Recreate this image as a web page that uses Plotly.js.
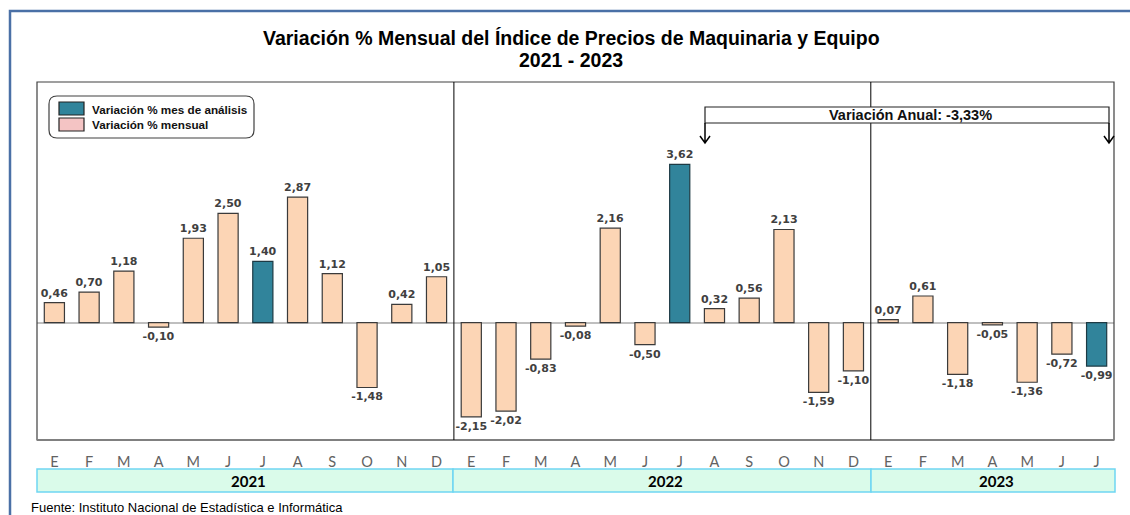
<!DOCTYPE html>
<html><head><meta charset="utf-8">
<script src="https://cdn.plot.ly/plotly-3.0.1.min.js"></script>
<style>html,body{margin:0;padding:0;background:#fff}#chart{width:1130px;height:515px}</style>
</head><body><div id="chart"></div>
<script>
// ---- DATA ----
const monthLabels2021 = ['E','F','M','A','M','J','J','A','S','O','N','D'];
const monthLabels2022 = ['E','F','M','A','M','J','J','A','S','O','N','D'];
const monthLabels2023 = ['E','F','M','A','M','J','J'];
const years = ['2021','2022','2023'];
const values2021 = [0.46, 0.70, 1.18, -0.10, 1.93, 2.50, 1.40, 2.87, 1.12, -1.48, 0.42, 1.05];
const values2022 = [-2.15, -2.02, -0.83, -0.08, 2.16, -0.50, 3.62, 0.32, 0.56, 2.13, -1.59, -1.10];
const values2023 = [0.07, 0.61, -1.18, -0.05, -1.36, -0.72, -0.99];
const analysisMonth = 6; // julio (mes de análisis) in each year
const legendNames = ['Variación % mes de análisis', 'Variación % mensual'];
const annualText = 'Variación Anual: -3,33%';
const titleLine1 = 'Variación % Mensual del Índice de Precios de Maquinaria y Equipo';
const titleLine2 = '2021 - 2023';
const sourceText = 'Fuente: Instituto Nacional de Estadística e Informática';

// ---- BUILD ----
const W = 1130, H = 515;
const px = x => x / W;
const py = y => 1 - y / H;
const groups = [[monthLabels2021, values2021], [monthLabels2022, values2022], [monthLabels2023, values2023]];
const xs = [], ticks = [], monthly = [], analysis = [], yearStart = [];
let k = 0;
groups.forEach(([labels, vals]) => {
  yearStart.push(k);
  vals.forEach((v, i) => {
    xs.push(k); ticks.push(labels[i]);
    if (i === analysisMonth) { analysis.push(v); monthly.push(null); }
    else { monthly.push(v); analysis.push(null); }
    k++;
  });
});
const n = xs.length;

const PL = 37, PR = 1114, PT = 82, PB = 440;
const textfont = {family: 'DejaVu Sans', size: 11, color: '#404040', weight: 'bold'};
const traces = [
  {type: 'bar', x: xs, y: monthly, name: legendNames[1], marker: {color: '#FCD5B5', line: {color: '#3a3a3a', width: 1.2}},
   texttemplate: '%{y:.2f}', textposition: 'outside', constraintext: 'none', textfont: textfont, cliponaxis: false, hoverinfo: 'skip'},
  {type: 'bar', x: xs, y: analysis, name: legendNames[0], marker: {color: '#31849B', line: {color: '#1d3a44', width: 1.2}},
   texttemplate: '%{y:.2f}', textposition: 'outside', constraintext: 'none', textfont: textfont, cliponaxis: false, hoverinfo: 'skip'}
];

const shapes = [];
const annotations = [];
// year bands
const bandEdges = [PL, 453, 871, 1115];
years.forEach((yr, i) => {
  shapes.push({type: 'rect', xref: 'paper', yref: 'paper', x0: px(bandEdges[i]), x1: px(bandEdges[i+1]), y0: py(492), y1: py(469),
    fillcolor: '#DAFBEA', line: {color: '#6FD6F2', width: 1.5}});
  annotations.push({xref: 'paper', yref: 'paper', x: px((bandEdges[i] + bandEdges[i+1]) / 2 + 3), y: py(480.5), text: '<b>' + yr + '</b>',
    showarrow: false, font: {family: 'Lato', size: 15, color: '#000'}, xanchor: 'center', yanchor: 'middle'});
});
// plot frame
shapes.push({type: 'rect', xref: 'paper', yref: 'paper', x0: px(PL), x1: px(PR), y0: py(PB), y1: py(PT), line: {color: '#404040', width: 1.2}});
shapes.push({type: 'line', xref: 'paper', yref: 'paper', x0: px(PL), x1: px(PR), y0: py(PB), y1: py(PB), line: {color: '#808080', width: 2}});
// year dividers inside plot
[yearStart[1], yearStart[2]].forEach(s => {
  shapes.push({type: 'line', xref: 'x', yref: 'paper', x0: s - 0.5, x1: s - 0.5, y0: py(PB), y1: py(PT), line: {color: '#000', width: 1}});
});
// outer blue frame
shapes.push({type: 'path', xref: 'paper', yref: 'paper', path: `M ${px(10)},${py(515)} L ${px(10)},${py(11)} L ${px(1130)},${py(11)}`, line: {color: '#4A70A6', width: 2.5}});
// legend box (rounded)
(function(){
  const x0 = 49, x1 = 254, y0 = 96, y1 = 138, r = 8;
  const P = (x, y) => `${px(x)},${py(y)}`;
  const path = `M ${P(x0+r,y0)} L ${P(x1-r,y0)} Q ${P(x1,y0)} ${P(x1,y0+r)} L ${P(x1,y1-r)} Q ${P(x1,y1)} ${P(x1-r,y1)} L ${P(x0+r,y1)} Q ${P(x0,y1)} ${P(x0,y1-r)} L ${P(x0,y0+r)} Q ${P(x0,y0)} ${P(x0+r,y0)} Z`;
  shapes.push({type: 'path', xref: 'paper', yref: 'paper', path: path, fillcolor: '#fff', line: {color: '#404040', width: 1.2}});
  shapes.push({type: 'rect', xref: 'paper', yref: 'paper', x0: px(59), x1: px(84), y0: py(115), y1: py(102), fillcolor: '#31849B', line: {color: '#222', width: 1.2}});
  shapes.push({type: 'rect', xref: 'paper', yref: 'paper', x0: px(59), x1: px(84), y0: py(131), y1: py(118), fillcolor: '#F4C4C4', line: {color: '#222', width: 1.2}});
  annotations.push({xref: 'paper', yref: 'paper', x: px(90), y: py(109), text: '<b>' + legendNames[0] + '</b>', showarrow: false,
    xanchor: 'left', yanchor: 'middle', font: {family: 'Liberation Sans', size: 11.7, color: '#111'}});
  annotations.push({xref: 'paper', yref: 'paper', x: px(90), y: py(124), text: '<b>' + legendNames[1] + '</b>', showarrow: false,
    xanchor: 'left', yanchor: 'middle', font: {family: 'Liberation Sans', size: 11.7, color: '#111'}});
})();
// annual variation box + arrows
shapes.push({type: 'rect', xref: 'paper', yref: 'paper', x0: px(705), x1: px(1109), y0: py(123), y1: py(107), fillcolor: '#fff', line: {color: '#222', width: 1.2}});
[705, 1109].forEach(x => {
  shapes.push({type: 'path', xref: 'paper', yref: 'paper',
    path: `M ${px(x)},${py(123)} L ${px(x)},${py(143)} M ${px(x-5)},${py(136)} L ${px(x)},${py(143)} L ${px(x+5)},${py(136)}`,
    line: {color: '#000', width: 1.5}});
});
annotations.push({xref: 'paper', yref: 'paper', x: px(910), y: py(115), text: '<b>' + annualText + '</b>', showarrow: false,
  xanchor: 'center', yanchor: 'middle', font: {family: 'Liberation Sans', size: 14.5, color: '#111'}});
// titles
annotations.push({xref: 'paper', yref: 'paper', x: px(571), y: py(38), text: '<b>' + titleLine1 + '</b>', showarrow: false,
  xanchor: 'center', yanchor: 'middle', font: {family: 'Liberation Sans', size: 19.5, color: '#000'}});
annotations.push({xref: 'paper', yref: 'paper', x: px(571), y: py(60), text: '<b>' + titleLine2 + '</b>', showarrow: false,
  xanchor: 'center', yanchor: 'middle', font: {family: 'Liberation Sans', size: 19.5, color: '#000'}});
// source
annotations.push({xref: 'paper', yref: 'paper', x: px(29), y: py(507), text: sourceText, showarrow: false,
  xanchor: 'left', yanchor: 'middle', font: {family: 'Liberation Sans', size: 13, color: '#000'}});

const layout = {
  width: W, height: H, margin: {l: 0, r: 0, t: 0, b: 0},
  paper_bgcolor: '#fff', plot_bgcolor: '#fff',
  separators: ',.', barmode: 'overlay', bargap: 0.42, showlegend: false,
  xaxis: {domain: [px(PL), px(PR)], range: [-0.5, n - 0.5], tickvals: xs, ticktext: ticks, showgrid: false, zeroline: false,
    ticks: 'outside', ticklen: 9, tickcolor: 'rgba(0,0,0,0)', tickfont: {family: 'Lato', size: 14.5, color: '#626262'}, showline: false},
  yaxis: {domain: [py(PB), py(PT)], range: [-2.68, 5.50], showticklabels: false, showgrid: false, ticks: '',
    zeroline: true, zerolinecolor: '#BFBFBF', zerolinewidth: 2, showline: false},
  shapes: shapes, annotations: annotations
};
Plotly.newPlot('chart', traces, layout, {staticPlot: true});
</script></body></html>
